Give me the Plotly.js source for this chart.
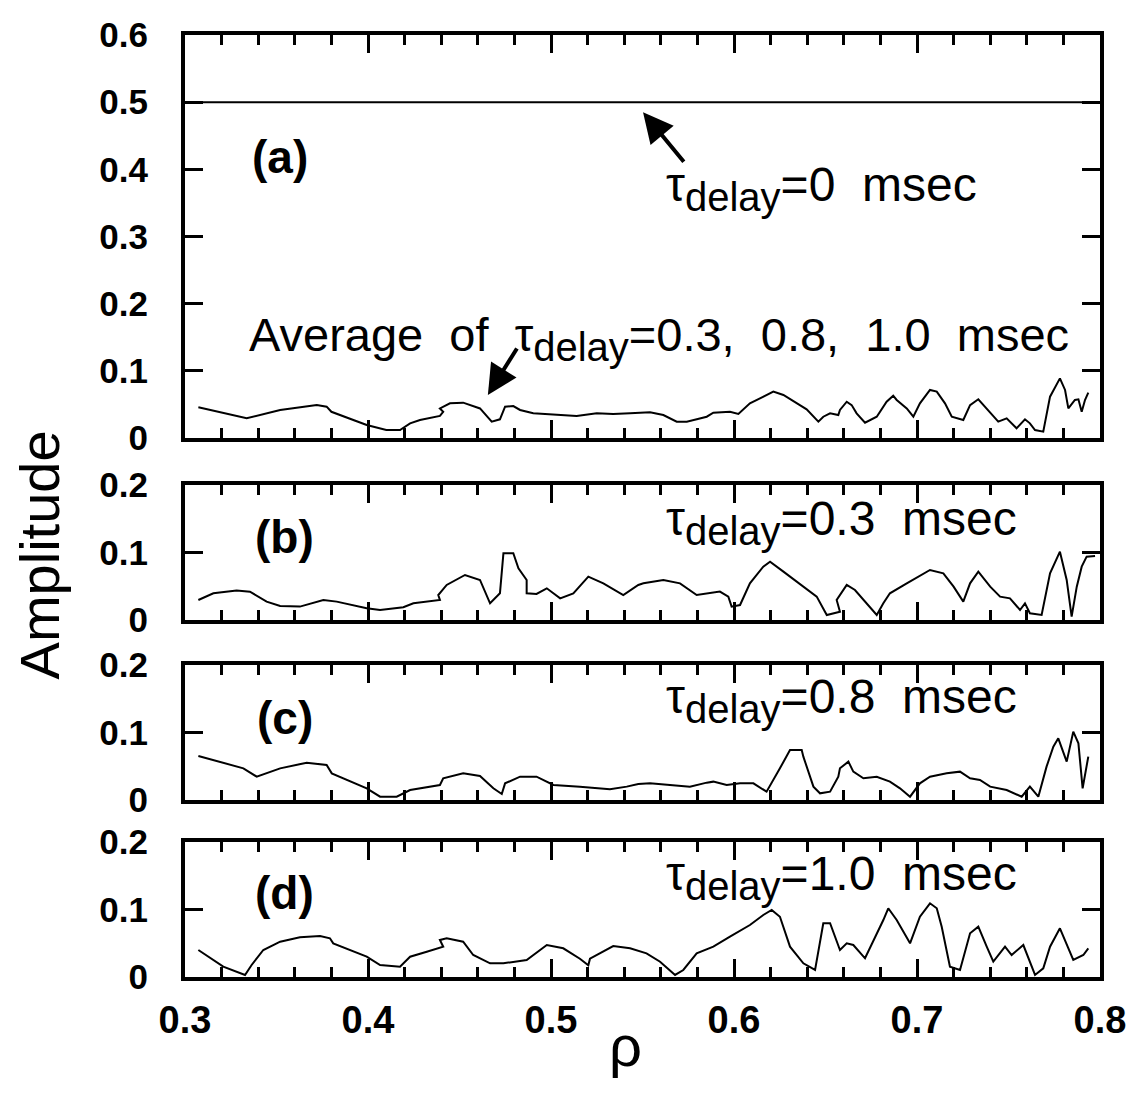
<!DOCTYPE html>
<html>
<head>
<meta charset="utf-8">
<script src="https://cdn.plot.ly/plotly-3.0.1.min.js"></script>
<style>html,body{margin:0;padding:0;background:#fff;}#chart{width:1134px;height:1095px;}</style>
</head>
<body>
<div id="chart"></div>
<script>
// ---- data ----
const rho0 = [0.3, 0.8];
const amp0 = [0.5, 0.5];

const rhoAvg = [0.3073,0.3337,0.352,0.372,0.3774,0.380,0.3993,0.410,0.4175,0.423,0.4284,0.4393,0.4411,0.4393,0.4448,0.452,0.4612,0.4676,0.4721,0.4749,0.4794,0.4831,0.4903,0.4977,0.505,0.514,0.525,0.534,0.5432,0.5541,0.5614,0.5687,0.5742,0.5796,0.5851,0.5887,0.5978,0.6024,0.6087,0.6142,0.6215,0.627,0.6361,0.6397,0.6461,0.6488,0.6525,0.657,0.6579,0.6616,0.6643,0.667,0.6716,0.678,0.6834,0.687,0.6889,0.6944,0.698,0.7016,0.7071,0.7108,0.7153,0.719,0.7253,0.729,0.7335,0.7362,0.74,0.7444,0.749,0.7544,0.759,0.7617,0.7645,0.769,0.7727,0.7781,0.7809,0.7827,0.7863,0.7882,0.79,0.7918,0.7936];
const ampAvg = [0.0457,0.0293,0.0417,0.049,0.0466,0.039,0.0194,0.0119,0.0119,0.0218,0.0268,0.0328,0.039,0.044,0.0516,0.0526,0.044,0.0243,0.0278,0.0466,0.0476,0.0417,0.0367,0.0357,0.0342,0.0328,0.0367,0.0357,0.0367,0.0382,0.0342,0.0243,0.0243,0.0278,0.0317,0.0377,0.039,0.0357,0.0516,0.0591,0.069,0.064,0.049,0.0427,0.0243,0.0317,0.0367,0.0342,0.0417,0.054,0.049,0.0367,0.0228,0.0317,0.054,0.063,0.0566,0.044,0.0317,0.0516,0.0715,0.069,0.0516,0.0317,0.0268,0.049,0.0576,0.049,0.0367,0.0243,0.0293,0.0144,0.0278,0.0218,0.0119,0.0094,0.0615,0.0888,0.0715,0.044,0.0566,0.0576,0.039,0.0566,0.0675];

const rhoB = [0.3073,0.3155,0.3282,0.3355,0.3446,0.352,0.3628,0.3756,0.3829,0.3993,0.4066,0.4193,0.4248,0.4393,0.4384,0.443,0.453,0.4612,0.4667,0.4721,0.474,0.4794,0.4822,0.4867,0.4867,0.4921,0.4977,0.505,0.5122,0.5204,0.5286,0.5395,0.5477,0.5505,0.5614,0.5705,0.5796,0.5869,0.5923,0.5969,0.5987,0.6033,0.6087,0.616,0.6197,0.627,0.6379,0.6452,0.6507,0.6579,0.6561,0.6616,0.6661,0.6707,0.678,0.6816,0.6852,0.6944,0.7071,0.7144,0.72,0.7253,0.729,0.7335,0.74,0.7454,0.7508,0.7563,0.759,0.7617,0.7681,0.7727,0.7781,0.7818,0.7845,0.7873,0.79,0.7927,0.7973];
const ampB = [0.0296,0.0395,0.0435,0.042,0.0272,0.0207,0.0198,0.0296,0.0272,0.0173,0.0148,0.0188,0.0247,0.0296,0.037,0.0519,0.0667,0.0593,0.0247,0.0395,0.0988,0.0988,0.0765,0.0593,0.0395,0.0385,0.0469,0.0321,0.0395,0.0642,0.0543,0.037,0.0519,0.0543,0.0593,0.0543,0.037,0.0395,0.042,0.0346,0.0198,0.0222,0.0543,0.079,0.0864,0.0716,0.0494,0.0346,0.0074,0.0123,0.0296,0.0519,0.0444,0.0296,0.0074,0.0247,0.0395,0.0543,0.0741,0.0691,0.0494,0.0272,0.0543,0.0716,0.0494,0.0346,0.0321,0.0148,0.0247,0.0099,0.0074,0.0691,0.1012,0.0593,0.0049,0.0494,0.079,0.0938,0.0948];

const rhoC = [0.3073,0.3319,0.3392,0.352,0.3665,0.3774,0.3802,0.3993,0.4066,0.4157,0.423,0.4393,0.4411,0.452,0.4612,0.4685,0.4731,0.4749,0.4831,0.4921,0.5013,0.5158,0.5322,0.5414,0.5477,0.5541,0.565,0.5759,0.5851,0.5887,0.5960,0.6033,0.6106,0.6178,0.6251,0.6306,0.637,0.6379,0.6434,0.647,0.6525,0.657,0.6579,0.6625,0.6652,0.6707,0.678,0.6852,0.6907,0.6962,0.7016,0.7071,0.7162,0.7235,0.729,0.7344,0.74,0.749,0.7572,0.7617,0.7663,0.7708,0.7745,0.7772,0.7818,0.7854,0.7882,0.7905,0.7936];
const ampC = [0.0652,0.0469,0.0345,0.0469,0.0553,0.0519,0.0395,0.0173,0.0049,0.0049,0.0148,0.0222,0.0321,0.0395,0.0356,0.0173,0.0089,0.0247,0.0345,0.0345,0.0222,0.0198,0.0158,0.0198,0.0237,0.0247,0.0222,0.0198,0.0257,0.0272,0.0222,0.0247,0.0247,0.0123,0.0469,0.0741,0.0741,0.0642,0.0198,0.0099,0.0123,0.0345,0.0469,0.0568,0.042,0.0321,0.0345,0.0272,0.0173,0.0049,0.0247,0.0345,0.0395,0.042,0.0321,0.0296,0.0198,0.0148,0.0049,0.0198,0.0049,0.0494,0.079,0.0914,0.0568,0.1012,0.084,0.0173,0.0642];

const rhoD = [0.3073,0.3209,0.3328,0.3364,0.3428,0.352,0.3628,0.3738,0.3792,0.381,0.3993,0.4066,0.4175,0.423,0.4321,0.4411,0.4393,0.443,0.452,0.4575,0.4667,0.474,0.4867,0.4977,0.5067,0.5158,0.5204,0.5213,0.534,0.5432,0.5522,0.5596,0.5678,0.5723,0.5796,0.5887,0.5978,0.6087,0.616,0.6206,0.6251,0.6306,0.6379,0.6443,0.6488,0.6525,0.6579,0.6616,0.6652,0.6716,0.6816,0.6843,0.6889,0.6962,0.7016,0.7071,0.7108,0.7135,0.7180,0.7235,0.729,0.7335,0.7381,0.7417,0.7481,0.7517,0.7581,0.7617,0.7645,0.769,0.7727,0.7781,0.7854,0.7909,0.7936];
const ampD = [0.04,0.0153,0.003,0.0178,0.04,0.0523,0.0588,0.0607,0.0573,0.0499,0.0301,0.0178,0.0153,0.0301,0.0375,0.0449,0.0548,0.0573,0.0523,0.0326,0.0203,0.0203,0.0252,0.0474,0.0425,0.0271,0.0173,0.0271,0.0459,0.0425,0.0351,0.0227,0.003,0.0104,0.0351,0.0449,0.0597,0.077,0.0919,0.0993,0.0893,0.0449,0.0203,0.0104,0.0796,0.0796,0.04,0.0499,0.0474,0.0277,0.0844,0.1018,0.0844,0.0499,0.0893,0.1092,0.1018,0.0745,0.0153,0.0104,0.0647,0.0745,0.0449,0.0227,0.0449,0.0326,0.0474,0.0227,0.003,0.0129,0.0449,0.0721,0.0252,0.0326,0.0425];

const xTickVals = [0.3, 0.4, 0.5, 0.6, 0.7, 0.8];
const xTickText = ['0.3', '0.4', '0.5', '0.6', '0.7', '0.8'];
const yTickValsA = [0, 0.1, 0.2, 0.3, 0.4, 0.5, 0.6];
const yTickTextA = ['0', '0.1', '0.2', '0.3', '0.4', '0.5', '0.6'];
const yTickValsS = [0, 0.1, 0.2];
const yTickTextS = ['0', '0.1', '0.2'];

// ---- styling ----
const FONT = 'Liberation Sans, Arial, sans-serif';
const lineStyle = {color: '#000', width: 2};

const traces = [
  {x: rho0, y: amp0, xaxis: 'x', yaxis: 'y', mode: 'lines', line: lineStyle},
  {x: rhoAvg, y: ampAvg, xaxis: 'x', yaxis: 'y', mode: 'lines', line: lineStyle},
  {x: rhoB, y: ampB, xaxis: 'x2', yaxis: 'y2', mode: 'lines', line: lineStyle},
  {x: rhoC, y: ampC, xaxis: 'x3', yaxis: 'y3', mode: 'lines', line: lineStyle},
  {x: rhoD, y: ampD, xaxis: 'x4', yaxis: 'y4', mode: 'lines', line: lineStyle}
];

function xAxis(anchor, showLabels) {
  return {
    anchor: anchor, domain: [0, 1], range: [0.3, 0.8],
    tickvals: xTickVals, ticktext: xTickText, showticklabels: showLabels,
    ticks: 'inside', ticklen: 18, tickwidth: 3, tickcolor: '#000',
    minor: {dtick: 0.02, tick0: 0.3, ticks: 'inside', ticklen: 10, tickwidth: 3, tickcolor: '#000', showgrid: false},
    showline: true, linewidth: 4, linecolor: '#000', mirror: 'ticks',
    showgrid: false, zeroline: false, fixedrange: true,
    tickfont: {family: FONT, size: 38, color: '#000', weight: 'bold'},
    ticklabelstandoff: 6
  };
}
function yAxis(anchor, domain, range, vals, text) {
  return {
    anchor: anchor, domain: domain, range: range,
    tickvals: vals, ticktext: text,
    ticks: 'inside', ticklen: 18, tickwidth: 3, tickcolor: '#000',
    showline: true, linewidth: 4, linecolor: '#000', mirror: 'ticks',
    showgrid: false, zeroline: false, fixedrange: true,
    tickfont: {family: FONT, size: 35, color: '#000', weight: 'bold'},
    ticklabelstandoff: 26
  };
}

const annFont = {family: FONT, size: 48, color: '#000'};
const avgFont = {family: FONT, size: 47, color: '#000'};
const labFont = {family: FONT, size: 46, color: '#000', weight: 'bold'};
const sp = '\u00a0\u00a0';
const tau = 'τ<sub><span style="font-size:40px">delay</span></sub>';

const layout = {
  width: 1134, height: 1095,
  margin: {l: 185, r: 34, t: 35, b: 118},
  paper_bgcolor: '#fff', plot_bgcolor: '#fff',
  showlegend: false,
  xaxis: xAxis('y', false),
  xaxis2: xAxis('y2', false),
  xaxis3: xAxis('y3', false),
  xaxis4: xAxis('y4', true),
  yaxis: yAxis('x', [0.5722, 1.0], [0, 0.6], yTickValsA, yTickTextA),
  yaxis2: yAxis('x2', [0.379, 0.5223], [0, 0.2], yTickValsS, yTickTextS),
  yaxis3: yAxis('x3', [0.1879, 0.3312], [0, 0.2], yTickValsS, yTickTextS),
  yaxis4: yAxis('x4', [0, 0.1433], [0, 0.2], yTickValsS, yTickTextS),
  annotations: [
    {xref: 'paper', yref: 'paper', x: -0.158, y: 0.448, text: 'Amplitude', textangle: -90, showarrow: false,
     font: {family: FONT, size: 56, color: '#000'}, xanchor: 'center', yanchor: 'middle'},
    {xref: 'paper', yref: 'paper', x: 0.4809, y: -0.073, text: 'ρ', showarrow: false,
     font: {family: FONT, size: 58, color: '#000'}, xanchor: 'center', yanchor: 'middle'},

    {xref: 'x', yref: 'y', x: 0.352, y: 0.418, text: '(a)', showarrow: false, font: labFont, xanchor: 'center', yanchor: 'middle'},
    {xref: 'x', yref: 'y', x: 0.562, y: 0.372, text: tau + '=0' + sp + 'msec', showarrow: false, font: annFont, xanchor: 'left', yanchor: 'middle'},
    {xref: 'x', yref: 'y', x: 0.5503, y: 0.485, text: '', showarrow: true, ax: 42, ay: 51,
     arrowhead: 2, arrowsize: 1.5, arrowwidth: 4, arrowcolor: '#000'},
    {xref: 'x', yref: 'y', x: 0.334, y: 0.148, text: 'Average' + sp + 'of' + sp + tau + '=0.3,' + sp + '0.8,' + sp + '1.0' + sp + 'msec',
     showarrow: false, font: avgFont, xanchor: 'left', yanchor: 'middle'},
    {xref: 'x', yref: 'y', x: 0.4655, y: 0.064, text: '', showarrow: true, ax: 30, ay: -48,
     arrowhead: 2, arrowsize: 1.5, arrowwidth: 4, arrowcolor: '#000'},

    {xref: 'x2', yref: 'y2', x: 0.3546, y: 0.123, text: '(b)', showarrow: false, font: labFont, xanchor: 'center', yanchor: 'middle'},
    {xref: 'x2', yref: 'y2', x: 0.562, y: 0.145, text: tau + '=0.3' + sp + 'msec', showarrow: false, font: annFont, xanchor: 'left', yanchor: 'middle'},
    {xref: 'x3', yref: 'y3', x: 0.3546, y: 0.121, text: '(c)', showarrow: false, font: labFont, xanchor: 'center', yanchor: 'middle'},
    {xref: 'x3', yref: 'y3', x: 0.562, y: 0.148, text: tau + '=0.8' + sp + 'msec', showarrow: false, font: annFont, xanchor: 'left', yanchor: 'middle'},
    {xref: 'x4', yref: 'y4', x: 0.3546, y: 0.124, text: '(d)', showarrow: false, font: labFont, xanchor: 'center', yanchor: 'middle'},
    {xref: 'x4', yref: 'y4', x: 0.562, y: 0.147, text: tau + '=1.0' + sp + 'msec', showarrow: false, font: annFont, xanchor: 'left', yanchor: 'middle'}
  ]
};

Plotly.newPlot('chart', traces, layout, {staticPlot: true, displayModeBar: false});
</script>
</body>
</html>
